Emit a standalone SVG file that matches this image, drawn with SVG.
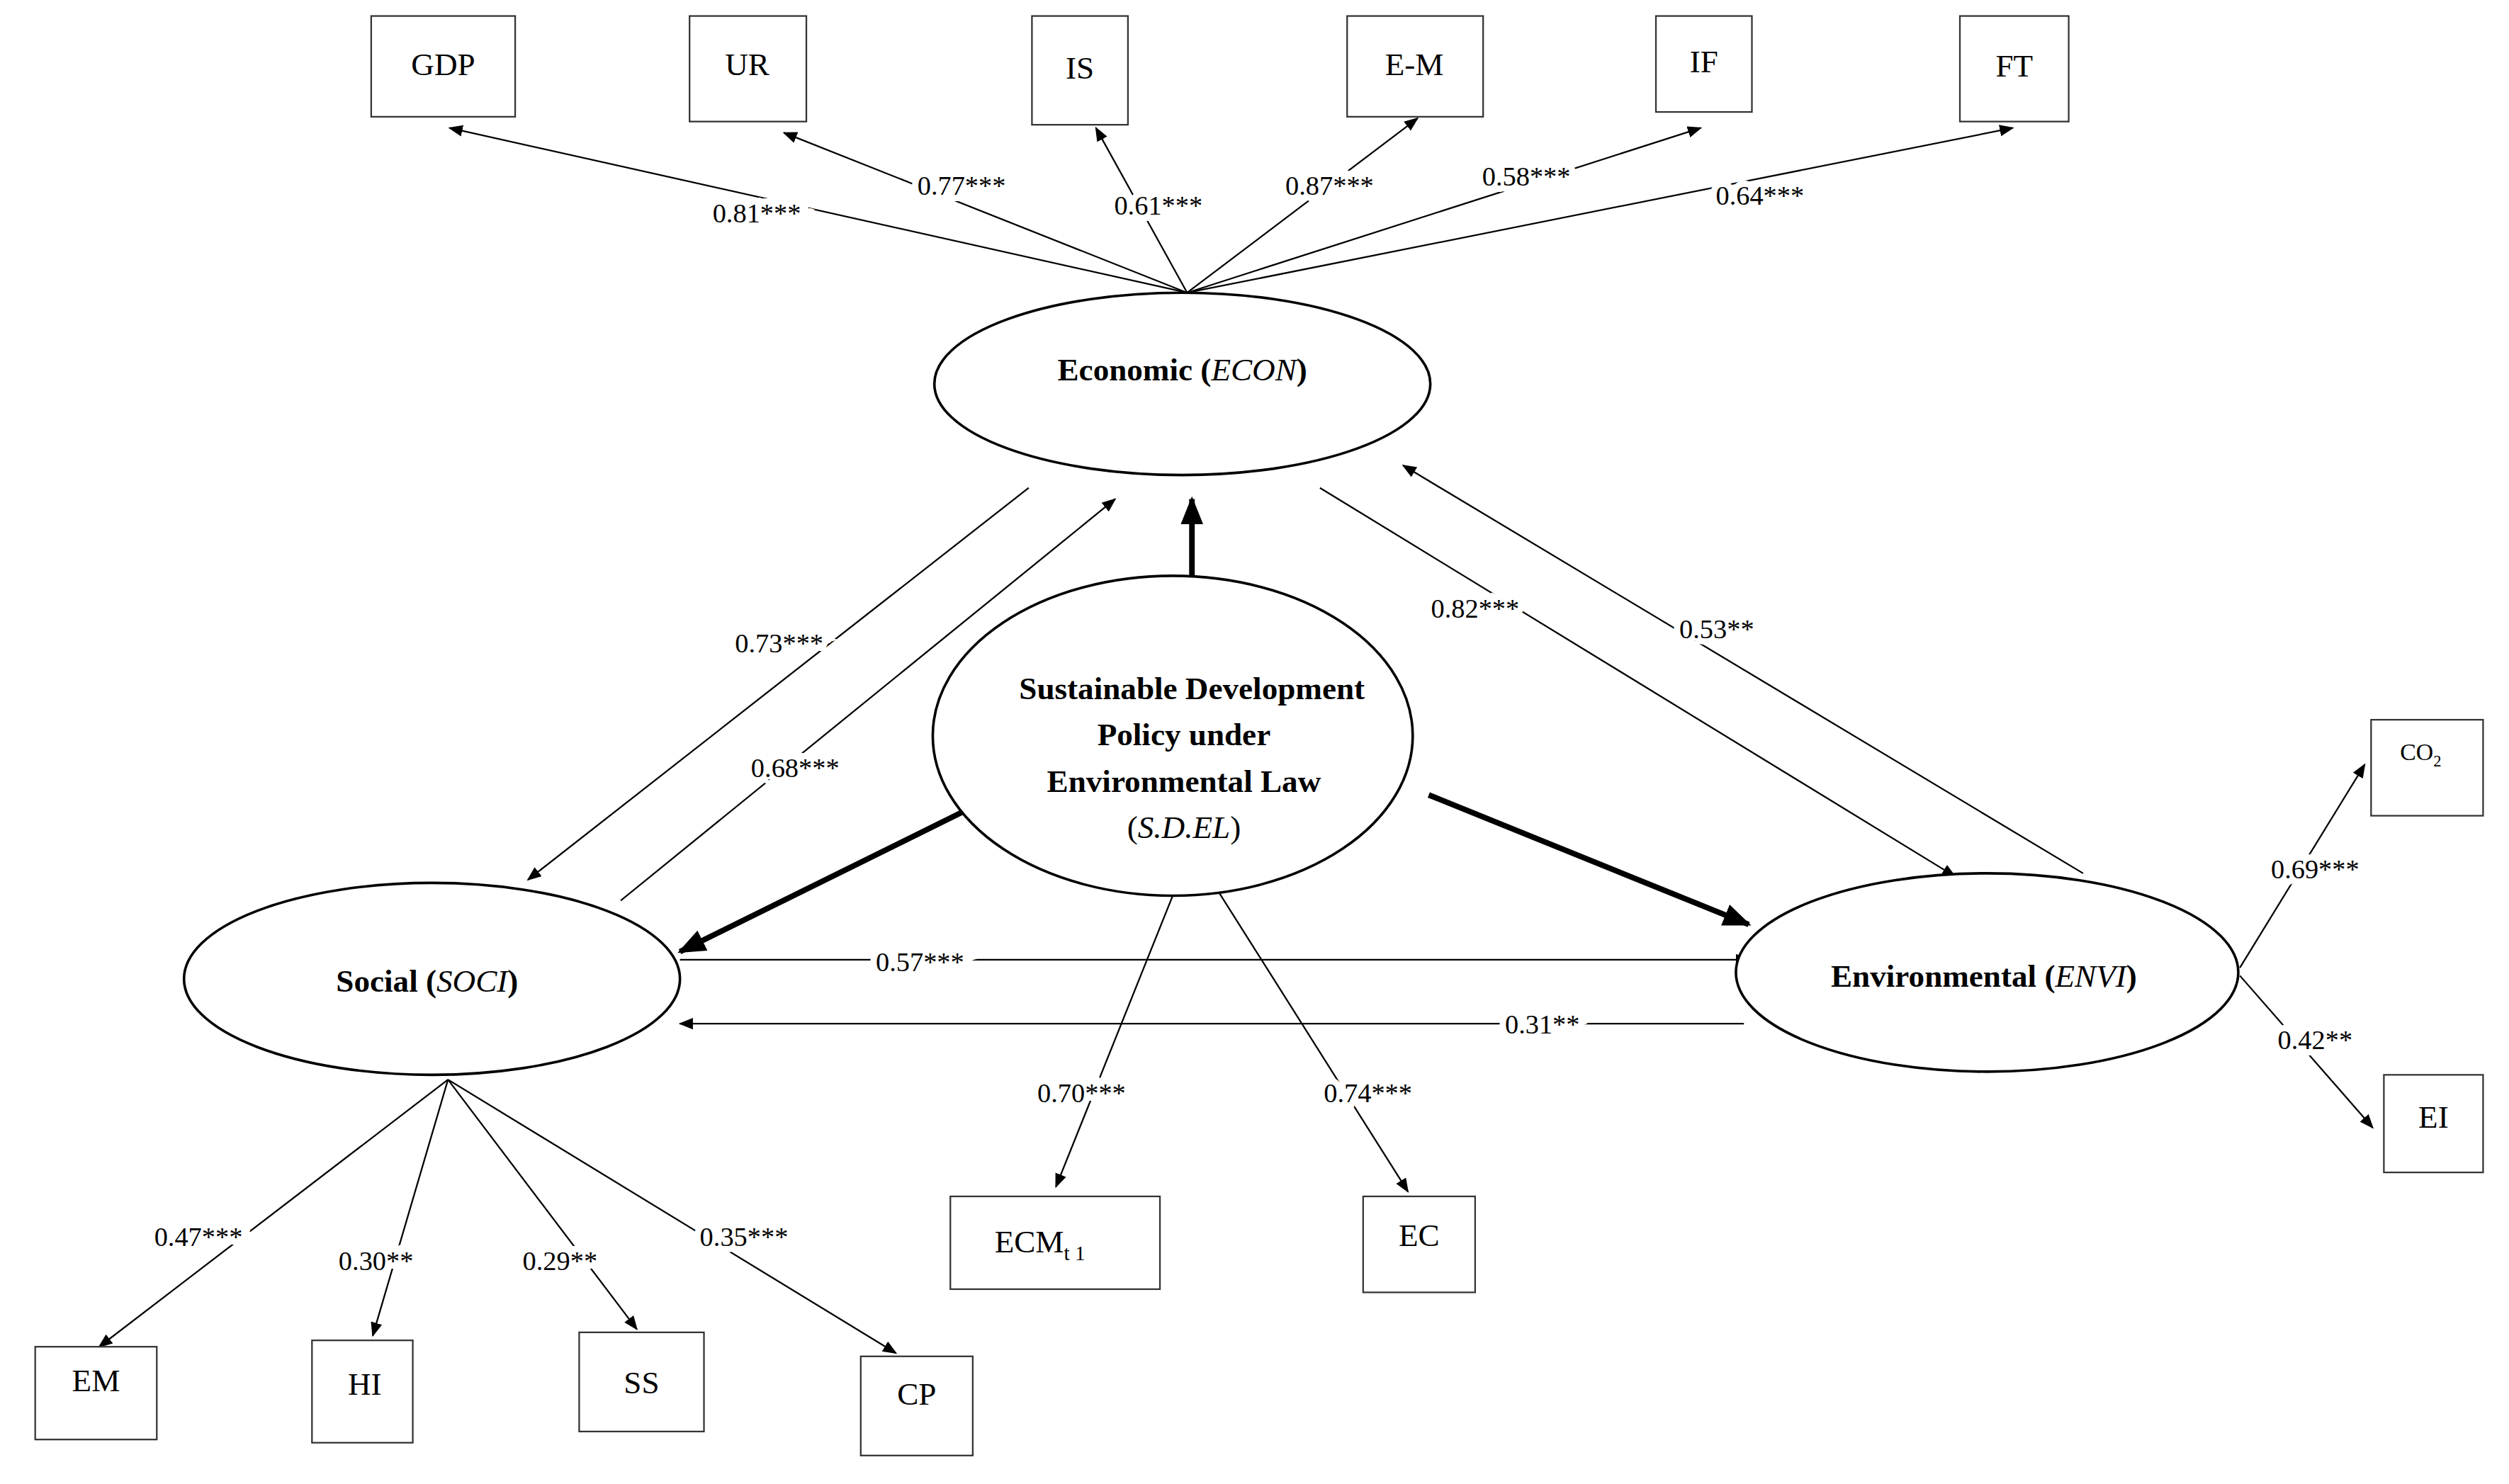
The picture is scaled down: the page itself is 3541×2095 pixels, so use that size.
<svg xmlns="http://www.w3.org/2000/svg" width="3541" height="2095" viewBox="0 0 3541 2095">
<defs>
<marker id="a" viewBox="0 0 10 10" refX="9" refY="5" markerWidth="9" markerHeight="9" markerUnits="userSpaceOnUse" orient="auto"><path d="M0,1 L10,5 L0,9 z" fill="#000"/></marker>
<marker id="b" viewBox="0 0 10 10" refX="9" refY="5" markerWidth="5" markerHeight="5" orient="auto"><path d="M0,1 L10,5 L0,9 z" fill="#000"/></marker>
</defs>
<style>
text{font-family:"Liberation Serif","Times New Roman",serif;fill:#000}
.bx{fill:#fff;stroke:#333;stroke-width:1}
.el{fill:#fff;stroke:#000;stroke-width:1.6}
.l{stroke:#000;stroke-width:1;fill:none;marker-end:url(#a)}
.t{stroke:#000;stroke-width:3.5;fill:none;marker-end:url(#b)}
.lb{font-family:"Liberation Serif","Times New Roman",serif;font-size:17px;text-anchor:middle;paint-order:stroke;stroke:#fff;stroke-width:8px}
.bt{font-size:20px;text-anchor:middle}
.et{font-size:20px;text-anchor:middle;font-weight:bold}
</style>
<rect width="3541" height="2095" fill="#fff"/>
<g transform="scale(2.258)">
<g id="connectors">
<path class="l" d="M742,183 L281,80"/>
<path class="l" d="M742,183 L490,83"/>
<path class="l" d="M742,183 L685,80"/>
<path class="l" d="M742,183 L886,74"/>
<path class="l" d="M742,183 L1063,80"/>
<path class="l" d="M742,183 L1258,80"/>
<path class="l" d="M643,305 L330,550"/>
<path class="l" d="M388,563 L697,312"/>
<path class="t" d="M745,373 L745,312"/>
<path class="l" d="M825,305 L1222,548"/>
<path class="l" d="M1302,546 L877,291"/>
<path class="t" d="M603,507 L425,595"/>
<path class="t" d="M893,497 L1093,578"/>
<path class="l" d="M425,600 L1093,600"/>
<path class="l" d="M1090,640 L425,640"/>
<path class="l" d="M735,555 L660,742"/>
<path class="l" d="M760,555 L880,745"/>
<path class="l" d="M1400,605 L1478,478"/>
<path class="l" d="M1400,610 L1483,705"/>
<path class="l" d="M280,675 L62,842"/>
<path class="l" d="M280,675 L233,835"/>
<path class="l" d="M280,675 L398,831"/>
<path class="l" d="M280,675 L560,846"/>
<text class="lb" x="473" y="139">0.81***</text>
<text class="lb" x="601" y="122">0.77***</text>
<text class="lb" x="724" y="134">0.61***</text>
<text class="lb" x="831" y="122">0.87***</text>
<text class="lb" x="954" y="116">0.58***</text>
<text class="lb" x="1100" y="128">0.64***</text>
<text class="lb" x="487" y="408">0.73***</text>
<text class="lb" x="497" y="486">0.68***</text>
<text class="lb" x="922" y="386">0.82***</text>
<text class="lb" x="1073" y="399">0.53**</text>
<text class="lb" x="575" y="607">0.57***</text>
<text class="lb" x="964" y="646">0.31**</text>
<text class="lb" x="676" y="689">0.70***</text>
<text class="lb" x="855" y="689">0.74***</text>
<text class="lb" x="1447" y="549">0.69***</text>
<text class="lb" x="1447" y="656">0.42**</text>
<text class="lb" x="124" y="779">0.47***</text>
<text class="lb" x="235" y="794">0.30**</text>
<text class="lb" x="350" y="794">0.29**</text>
<text class="lb" x="465" y="779">0.35***</text>
</g>
<g id="GDP"><rect class="bx" x="232" y="10" width="90" height="63"/><text class="bt" x="277" y="47">GDP</text></g>
<g id="UR"><rect class="bx" x="431" y="10" width="73" height="66"/><text class="bt" x="467" y="47">UR</text></g>
<g id="IS"><rect class="bx" x="645" y="10" width="60" height="68"/><text class="bt" x="675" y="49">IS</text></g>
<g id="EM_top"><rect class="bx" x="842" y="10" width="85" height="63"/><text class="bt" x="884" y="47">E-M</text></g>
<g id="IF"><rect class="bx" x="1035" y="10" width="60" height="60"/><text class="bt" x="1065" y="45">IF</text></g>
<g id="FT"><rect class="bx" x="1225" y="10" width="68" height="66"/><text class="bt" x="1259" y="48">FT</text></g>
<g id="CO2"><rect class="bx" x="1482" y="450" width="70" height="60"/><text class="bt" x="1513" y="475" style="font-size:15px">CO<tspan font-size="10" dy="4">2</tspan></text></g>
<g id="EI"><rect class="bx" x="1490" y="672" width="62" height="61"/><text class="bt" x="1521" y="705">EI</text></g>
<g id="ECM"><rect class="bx" x="594" y="748" width="131" height="58"/><text class="bt" x="650" y="783">ECM<tspan font-size="13" dy="5">t 1</tspan></text></g>
<g id="EC"><rect class="bx" x="852" y="748" width="70" height="60"/><text class="bt" x="887" y="779">EC</text></g>
<g id="EM"><rect class="bx" x="22" y="842" width="76" height="58"/><text class="bt" x="60" y="870">EM</text></g>
<g id="HI"><rect class="bx" x="195" y="838" width="63" height="64"/><text class="bt" x="228" y="872">HI</text></g>
<g id="SS"><rect class="bx" x="362" y="833" width="78" height="62"/><text class="bt" x="401" y="871">SS</text></g>
<g id="CP"><rect class="bx" x="538" y="848" width="70" height="62"/><text class="bt" x="573" y="878">CP</text></g>
<g id="ECON"><ellipse class="el" cx="739" cy="240" rx="155" ry="57"/><text class="et" x="739" y="238">Economic (<tspan font-style="italic" font-weight="normal">ECON</tspan>)</text></g>
<g id="SDEL"><ellipse class="el" cx="733" cy="460" rx="150" ry="100"/>
<text class="et" x="745" y="437">Sustainable Development</text>
<text class="et" x="740" y="466">Policy under</text>
<text class="et" x="740" y="495">Environmental Law</text>
<text class="bt" x="740" y="524">(<tspan font-style="italic">S.D.EL</tspan>)</text></g>
<g id="SOCI"><ellipse class="el" cx="270" cy="612" rx="155" ry="60"/><text class="et" x="267" y="620">Social (<tspan font-style="italic" font-weight="normal">SOCI</tspan>)</text></g>
<g id="ENVI"><ellipse class="el" cx="1242" cy="608" rx="157" ry="62"/><text class="et" x="1240" y="617">Environmental (<tspan font-style="italic" font-weight="normal">ENVI</tspan>)</text></g>
</g>
</svg>
